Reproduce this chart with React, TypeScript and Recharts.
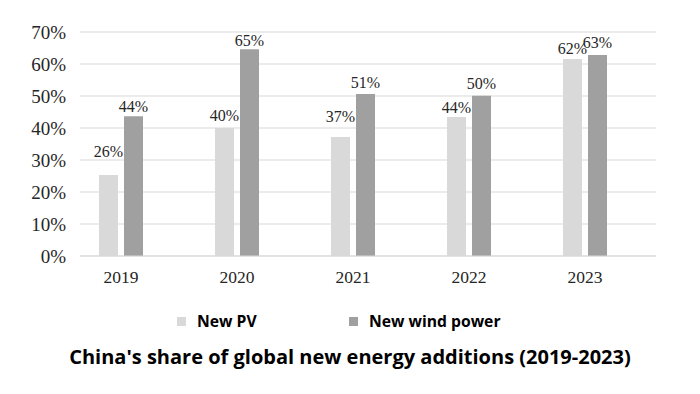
import { BarChart, Bar, XAxis, YAxis, CartesianGrid, LabelList } from "recharts";
import React from "react";

const years = ["2019", "2020", "2021", "2022", "2023"];
const pvShare = [25.3, 40, 37.2, 43.4, 61.6];
const windShare = [43.7, 64.6, 50.6, 50.1, 62.8];
const pvLabels = ["26%", "40%", "37%", "44%", "62%"];
const windLabels = ["44%", "65%", "51%", "50%", "63%"];
const yTicks = [0, 10, 20, 30, 40, 50, 60, 70];

// extra lift of each value label above its bar, as placed in the source
const pvLift = [14, 3, 11, 0, 1];
const windLift = [0, -1, 2, 3, 3];

const PV_COLOR = "#d9d9d9";
const WIND_COLOR = "#a0a0a0";
const serif = "'Liberation Serif', 'Times New Roman', serif";
const sans = "'Open Sans', 'Noto Sans', sans-serif";

const data = years.map((y, i) => ({
  year: y,
  pv: pvShare[i],
  wind: windShare[i],
  pvLabel: pvLabels[i],
  windLabel: windLabels[i],
}));

const legendItems = [
  { name: "New PV", color: PV_COLOR, left: 177 },
  { name: "New wind power", color: WIND_COLOR, left: 349 },
];

const makeLabel = (lift: number[]) => (props: any) => {
  const { x, y, width, value, index } = props;
  return (
    <text
      x={Number(x) + Number(width) / 2}
      y={Number(y) - 4 - (lift[index] ?? 0)}
      textAnchor="middle"
      fill="#262626"
      fontSize={16}
      fontFamily={serif}
    >
      {value}
    </text>
  );
};

export default function App() {
  return (
    <div style={{ position: "relative", width: 700, height: 394, background: "#fff" }}>
      <style>{`body{margin:0}`}</style>
      <BarChart
        width={700}
        height={300}
        data={data}
        margin={{ top: 32, right: 44, bottom: 14, left: 0 }}
        barSize={19}
        barGap={6}
      >
        <CartesianGrid vertical={false} stroke="#d9d9d9" />
        <XAxis
          dataKey="year"
          height={30}
          padding={{ left: -17, right: 13 }}
          axisLine={{ stroke: "#d9d9d9" }}
          tickLine={false}
          tickMargin={9}
          tick={{ fill: "#262626", fontSize: 17.5, fontFamily: serif }}
        />
        <YAxis
          width={80}
          domain={[0, 70]}
          ticks={yTicks}
          interval={0}
          axisLine={false}
          tickLine={false}
          tickMargin={8}
          tickFormatter={(v: number) => `${v}%`}
          tick={{ fill: "#262626", fontSize: 19, fontFamily: serif }}
        />
        <Bar dataKey="pv" fill={PV_COLOR} isAnimationActive={false}>
          <LabelList dataKey="pvLabel" content={makeLabel(pvLift)} />
        </Bar>
        <Bar dataKey="wind" fill={WIND_COLOR} isAnimationActive={false}>
          <LabelList dataKey="windLabel" content={makeLabel(windLift)} />
        </Bar>
      </BarChart>

      {legendItems.map((it) => (
        <div
          key={it.name}
          style={{
            position: "absolute",
            left: it.left,
            top: 310,
            display: "flex",
            alignItems: "center",
            gap: 11,
            fontFamily: sans,
            fontWeight: 700,
            fontSize: 15.7,
            color: "#000",
            lineHeight: "22px",
          }}
        >
          <span style={{ display: "inline-block", width: 9, height: 9, background: it.color }} />
          <span>{it.name}</span>
        </div>
      ))}

      <div
        style={{
          position: "absolute",
          left: 0,
          width: 700,
          top: 343,
          textAlign: "center",
          fontFamily: sans,
          fontWeight: 700,
          fontSize: 20,
          lineHeight: "28px",
          color: "#000",
        }}
      >
        China's share of global new energy additions (2019-2023)
      </div>
    </div>
  );
}
